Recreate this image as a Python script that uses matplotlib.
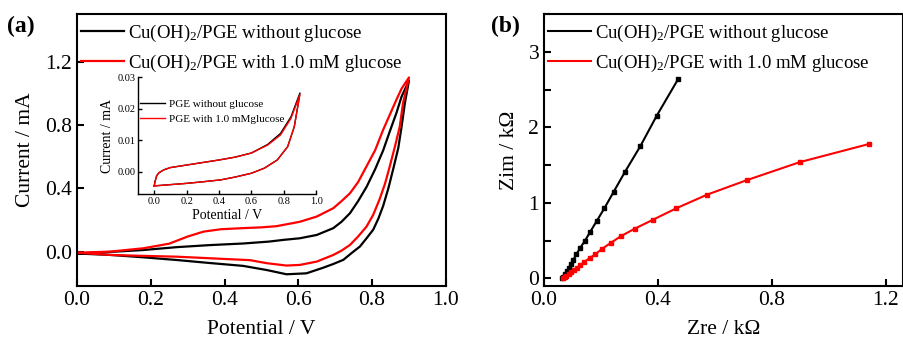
import matplotlib
matplotlib.use("Agg")
import matplotlib.pyplot as plt
from matplotlib.lines import Line2D
from matplotlib.ticker import MultipleLocator

plt.rcParams['font.family'] = ['Liberation Serif', 'DejaVu Serif']
plt.rcParams['mathtext.default'] = 'regular'

# (a) cyclic voltammograms, potential in V, current in mA
e_fwd_blank = [0.00, 0.09, 0.18, 0.27, 0.36, 0.45, 0.52, 0.56, 0.604, 0.65, 0.695, 0.717, 0.74, 0.762, 0.785,
               0.808, 0.83, 0.848, 0.866, 0.88, 0.90]
i_fwd_blank = [-0.01, 0.0, 0.012, 0.03, 0.043, 0.053, 0.065, 0.076, 0.086, 0.107, 0.15, 0.19, 0.244, 0.32, 0.41,
               0.52, 0.64, 0.76, 0.876, 0.98, 1.08]
e_rev_blank = [0.90, 0.889, 0.88, 0.871, 0.857, 0.844, 0.83, 0.817, 0.803, 0.785, 0.767, 0.744, 0.722, 0.695,
               0.667, 0.622, 0.568, 0.514, 0.45, 0.36, 0.27, 0.18, 0.09, 0.00]
i_rev_blank = [1.08, 0.94, 0.79, 0.655, 0.52, 0.40, 0.29, 0.21, 0.14, 0.086, 0.034, -0.008, -0.05, -0.076,
               -0.10, -0.135, -0.141, -0.114, -0.088, -0.07, -0.051, -0.034, -0.019, -0.01]

e_fwd_glu = [0.00, 0.09, 0.18, 0.25, 0.30, 0.343, 0.39, 0.45, 0.50, 0.54, 0.604, 0.65, 0.695, 0.717, 0.74, 0.762,
             0.785, 0.808, 0.83, 0.848, 0.866, 0.88, 0.90]
i_fwd_glu = [-0.005, 0.002, 0.023, 0.052, 0.097, 0.128, 0.143, 0.15, 0.155, 0.162, 0.19, 0.223, 0.276, 0.32, 0.37,
             0.44, 0.54, 0.64, 0.77, 0.865, 0.96, 1.03, 1.10]
e_rev_glu = [0.90, 0.884, 0.875, 0.862, 0.848, 0.835, 0.82, 0.803, 0.785, 0.762, 0.74, 0.717, 0.695, 0.65, 0.604,
             0.568, 0.514, 0.469, 0.36, 0.27, 0.18, 0.09, 0.00]
i_rev_glu = [1.10, 0.94, 0.79, 0.665, 0.54, 0.43, 0.33, 0.234, 0.16, 0.097, 0.044, 0.008, -0.019, -0.061, -0.082,
             -0.086, -0.071, -0.052, -0.04, -0.03, -0.025, -0.019, -0.005]

# inset: bare PGE
e_in_up = [0.0, 0.005, 0.015, 0.03, 0.06, 0.1, 0.2, 0.3, 0.4, 0.5, 0.6, 0.7, 0.78, 0.845, 0.9]
i_in_up_blank = [-0.0044, -0.003, -0.0012, -0.0002, 0.0007, 0.0014, 0.0022, 0.003, 0.0038, 0.0047, 0.006, 0.0087,
                 0.0122, 0.0175, 0.025]
i_in_up_glu = [-0.0044, -0.003, -0.0012, -0.0002, 0.0007, 0.0014, 0.0022, 0.003, 0.0038, 0.0047, 0.006, 0.0085,
               0.0117, 0.017, 0.0245]
e_in_down = [0.9, 0.865, 0.824, 0.76, 0.68, 0.6, 0.5, 0.41, 0.3, 0.2, 0.1, 0.0]
i_in_down_blank = [0.025, 0.0143, 0.008, 0.0038, 0.0012, -0.0004, -0.0016, -0.0025, -0.0031, -0.0036, -0.004, -0.0044]
i_in_down_glu = [0.0245, 0.0143, 0.008, 0.0038, 0.0012, -0.0004, -0.0016, -0.0025, -0.0031, -0.0036, -0.004, -0.0044]

# (b) Nyquist plots, kOhm
zre_blank = [0.064, 0.067, 0.072, 0.079, 0.087, 0.095, 0.103, 0.114, 0.126, 0.144, 0.161, 0.185, 0.212, 0.245,
             0.284, 0.338, 0.395, 0.471]
zim_blank = [0.005, 0.025, 0.055, 0.095, 0.14, 0.19, 0.25, 0.32, 0.40, 0.50, 0.61, 0.76, 0.93, 1.15, 1.41, 1.75,
             2.15, 2.64]
zre_glu = [0.068, 0.072, 0.078, 0.086, 0.095, 0.105, 0.117, 0.128, 0.142, 0.16, 0.18, 0.203, 0.234, 0.27, 0.319,
           0.384, 0.465, 0.573, 0.711, 0.898, 1.141]
zim_glu = [0.0, 0.015, 0.035, 0.055, 0.08, 0.11, 0.145, 0.18, 0.22, 0.27, 0.32, 0.39, 0.47, 0.56, 0.66, 0.78, 0.93,
           1.11, 1.30, 1.54, 1.78]

lab_blank = 'Cu(OH)$_2$/PGE without glucose'
lab_glu = 'Cu(OH)$_2$/PGE with 1.0 mM glucose'

fig = plt.figure(figsize=(9.04, 3.37), dpi=100)


def style(ax, fs=15.5, w=1.5):
    for s in ax.spines.values():
        s.set_linewidth(w)
    ax.tick_params(direction='in', labelsize=fs, width=w, length=5)


def big_legend(ax, handles=None):
    kw = dict(loc='upper left', bbox_to_anchor=(0.005, 0.975), frameon=False, fontsize=13.5,
              borderaxespad=0, borderpad=0.1, handlelength=2.3, handletextpad=0.2, labelspacing=0.48)
    if handles:
        ax.legend(handles=handles, **kw)
    else:
        ax.legend(**kw)


# panel (a)
ax1 = fig.add_axes([0.0852, 0.1513, 0.408, 0.807])
ax1.plot(e_fwd_blank + e_rev_blank[1:], i_fwd_blank + i_rev_blank[1:], c='black', lw=1.6, label=lab_blank)
ax1.plot(e_fwd_glu + e_rev_glu[1:], i_fwd_glu + i_rev_glu[1:], c='red', lw=1.6, label=lab_glu)
ax1.set_xlim(0, 1.0)
ax1.set_ylim(-0.215, 1.5)
ax1.set_xticks([0.0, 0.2, 0.4, 0.6, 0.8, 1.0])
ax1.set_yticks([0.0, 0.4, 0.8, 1.2])
style(ax1)
ax1.set_xlabel('Potential / V', fontsize=15.5, labelpad=7)
ax1.set_ylabel('Current / mA', fontsize=15.5, labelpad=7)
big_legend(ax1)
fig.text(0.008, 0.905, '(a)', fontsize=17, fontweight='bold')

# inset
ax_in = fig.add_axes([0.1527, 0.424, 0.197, 0.347])
ax_in.plot(e_in_up + e_in_down[1:], i_in_up_blank + i_in_down_blank[1:], c='black', lw=1.0,
           label='PGE without glucose')
ax_in.plot(e_in_up + e_in_down[1:], i_in_up_glu + i_in_down_glu[1:], c='red', lw=1.0,
           label='PGE with 1.0 mMglucose')
ax_in.set_xlim(-0.1, 1.0)
ax_in.set_ylim(-0.007, 0.03)
ax_in.set_xticks([0.0, 0.2, 0.4, 0.6, 0.8, 1.0])
ax_in.set_yticks([0.00, 0.01, 0.02, 0.03])
ax_in.yaxis.set_major_formatter('{x:.2f}')
ax_in.spines['top'].set_visible(False)
ax_in.spines['right'].set_visible(False)
style(ax_in, fs=7.5, w=1.0)
ax_in.tick_params(length=3, pad=2)
ax_in.set_xlabel('Potential / V', fontsize=10, labelpad=2)
ax_in.set_ylabel('Current / mA', fontsize=10, labelpad=2)
ax_in.legend(loc='upper left', bbox_to_anchor=(0.01, 0.81), frameon=False, fontsize=8,
             borderaxespad=0, borderpad=0, handlelength=2.3, handletextpad=0.3, labelspacing=0.45)

# panel (b)
ax2 = fig.add_axes([0.6018, 0.1513, 0.397, 0.807])
ax2.plot(zre_blank, zim_blank, c='black', lw=1.5, marker='s', ms=3.5)
ax2.plot(zre_glu, zim_glu, c='red', lw=1.5, marker='s', ms=3.5)
ax2.set_xlim(0, 1.26)
ax2.set_ylim(-0.1, 3.5)
ax2.set_xticks([0.0, 0.4, 0.8, 1.2])
ax2.set_yticks([0, 1, 2, 3])
ax2.yaxis.set_minor_locator(MultipleLocator(0.5))
style(ax2)
ax2.tick_params(which='minor', direction='in', width=1.5, length=5)
ax2.set_xlabel('Zre / kΩ', fontsize=15.5, labelpad=7)
ax2.set_ylabel('Zim / kΩ', fontsize=15.5, labelpad=7)
big_legend(ax2, [Line2D([], [], c='black', lw=1.5, label=lab_blank),
                 Line2D([], [], c='red', lw=1.5, label=lab_glu)])
fig.text(0.543, 0.905, '(b)', fontsize=17, fontweight='bold')

plt.savefig('out.png', dpi=100)
